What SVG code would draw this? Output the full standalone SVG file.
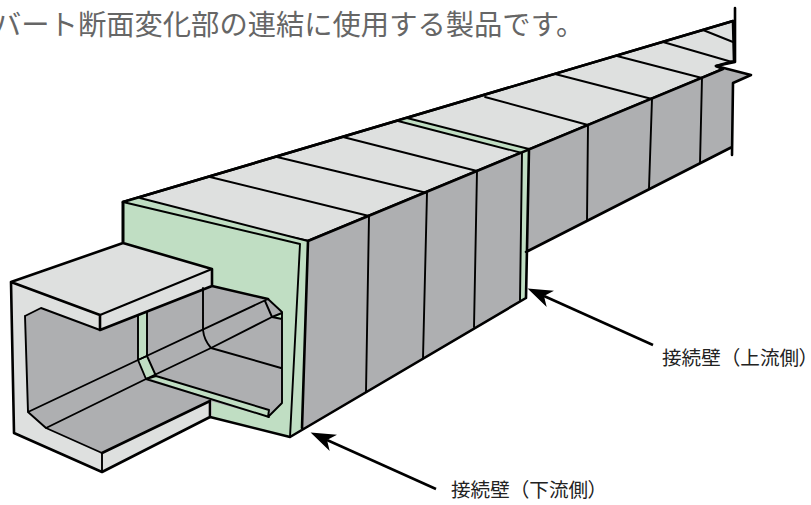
<svg xmlns="http://www.w3.org/2000/svg" width="811" height="505" viewBox="0 0 811 505">
<style>
.e{stroke:#000;stroke-width:2.6;stroke-linejoin:round;stroke-linecap:round}
.t{stroke:#000;stroke-width:1.9;fill:none;stroke-linecap:round;stroke-linejoin:round}
.a{stroke:#000;stroke-width:2.5;fill:none}
.l{fill:#dee0df}.d{fill:#aeafb1}.g{fill:#c0dec3}
text{font-family:"Noto Sans CJK JP","Noto Sans",sans-serif}
.lb{font-size:19.6px;fill:#222}
.p{font-feature-settings:"palt"}
</style>
<defs><marker id="ah" markerUnits="userSpaceOnUse" markerWidth="26" markerHeight="20" refX="7" refY="10" orient="auto"><path d="M25 10L0 1L7 10L0 19Z" fill="#000"/></marker></defs>
<text x="-7" y="35" font-size="28.3" fill="#666">バート断面変化部の連結に使用する製品です。</text>
<g id="body">
<path class="l e" d="M123 202L733 21L734 61L716 66L723 69L702 78L308 241Z"/>
<path class="d" d="M308 241L723 69L751 75L733 83L732 148L526 252L526 298L290 437Z"/>
<path class="g" d="M123 202L140 198L308 241L302 428L290 437L212 417V286L123 258Z"/>
<path class="g" d="M398 121L407 118L529 149L526 298L520 300L522 153Z"/>
<g class="t">
<path d="M210 177L369 216L366 392M277 157L427 193L423 358M343 137L477 171L474 327"/>
<path d="M485 97L588 125L587 220M555 74L652 99L649 188M617 56L702 78L700 163M663 42L732 62M703 30L733 42"/>
<path d="M140 198L308 241M123 202L300 244L290 437M398 121L522 153L520 300M407 118L529 149"/>
</g>
<path class="e" fill="none" d="M123 202L733 21M735 8V62L716 66L751 75L733 83L732 155M308 241L723 69M123 202V258M308 241L302 428M529 149L526 298M290 437L526 298M526 252L732 147M290 437L210 417"/>
</g>
<g id="box">
<path class="g" d="M212 286L268 299L282 312V403L268 417L212 400Z"/>
<path class="d" d="M25 316L41 308L100 330L212 286L268 299L282 312V403L268 417L210 401L102 453L46 428L28 412Z"/>
<path class="l" d="M11 282L100 315V330L41 308L25 316L28 412L46 428L102 453L210 401V417L102 472L14 433Z"/>
<path class="l" d="M11 282L123 243L212 269L100 315Z"/>
<path class="l" d="M100 315L212 269V286L100 330Z"/>
<path class="g" d="M138 315L147 312V356L156 376L269 410L268 417L148 378L146 379L138 360Z"/>
<path class="g" d="M273 317L282 314V319Z"/>
<g class="t">
<path d="M25 316L41 308L100 330M25 316L28 412L46 428L102 453M100 315L212 269M102 453V472M28 412L138 360L268 299M46 428L146 379L211 348L272 317L282 313"/>
<path d="M138 315V360L146 379L269 417M147 312V356L156 376L269 410L268 417L282 403V312L268 299M203 288V330Q204 340 211 348L281 368M138 360L147 356M146 379L156 376M265 301L272 317L282 319"/>
</g>
<path class="e" fill="none" d="M11 282L123 243L212 269V286L100 330V315L11 282L14 433L102 472L210 417V401L102 453M123 243V202M212 286L268 299M11 282L100 315"/>
</g>
<g id="connectors">
<path class="a" d="M653 345L544 296" marker-end="url(#ah)"/>
<path class="a" d="M436 489L327 440" marker-end="url(#ah)"/>
</g>
<g id="label-upper"><text class="lb" x="662" y="365">接続壁（上流側<tspan class="p">）</tspan></text></g>
<g id="label-lower"><text class="lb" x="451" y="497">接続壁（下流側<tspan class="p">）</tspan></text></g>
</svg>
